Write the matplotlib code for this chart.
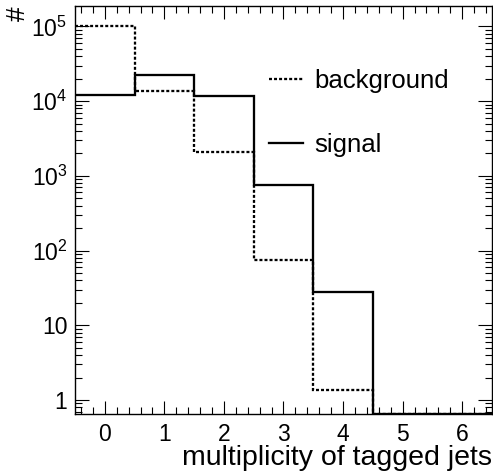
import numpy as np
import matplotlib
matplotlib.use("Agg")
import matplotlib.pyplot as plt
from matplotlib.ticker import FixedLocator, FixedFormatter, LogLocator, NullFormatter, MultipleLocator

plt.rcParams["font.family"] = ["Liberation Sans", "DejaVu Sans"]
plt.rcParams["mathtext.fontset"] = "custom"
plt.rcParams["mathtext.rm"] = "Liberation Sans"
plt.rcParams["mathtext.it"] = "Liberation Sans:italic"
plt.rcParams["mathtext.bf"] = "Liberation Sans:bold"
plt.rcParams["mathtext.default"] = "regular"

# number of tagged jets per event (bin centres)
multiplicity = [0, 1, 2, 3, 4, 5, 6]
background = [1.0e5, 1.36e4, 2.08e3, 74.0, 1.35, 0.0, 0.0]
signal = [1.22e4, 2.27e4, 1.17e4, 745.0, 28.0, 0.0, 0.0]

y_ticks = [1, 10, 1e2, 1e3, 1e4, 1e5]
y_ticklabels = ["1", "10", "$10^{2}$", "$10^{3}$", "$10^{4}$", "$10^{5}$"]
x_ticks = multiplicity
x_ticklabels = [str(m) for m in multiplicity]

ymin, ymax = 0.65, 1.88e5

fig = plt.figure(figsize=(4.93, 4.73), dpi=100)
ax = fig.add_axes([0.1521, 0.1247, 0.8458, 0.8626])

centers = np.asarray(multiplicity, dtype=float)
edges = np.append(centers - 0.5, centers[-1] + 0.5)

# empty bins sit on the bottom of the frame, as in ROOT
bkg_draw = np.where(np.asarray(background) > 0, background, ymin)
sig_draw = np.where(np.asarray(signal) > 0, signal, ymin)

ax.stairs(bkg_draw, edges, baseline=None, color="black", lw=1.65,
          linestyle=(0, (1.3, 0.9)), label="background", zorder=3)
ax.stairs(sig_draw, edges, baseline=None, color="black", lw=1.65,
          linestyle="-", label="signal", zorder=4)

ax.set_yscale("log")
ax.set_xlim(edges[0], edges[-1])
ax.set_ylim(ymin, ymax)

ax.yaxis.set_major_locator(FixedLocator(y_ticks))
ax.yaxis.set_major_formatter(FixedFormatter(y_ticklabels))
ax.yaxis.set_minor_locator(LogLocator(base=10, subs=np.arange(2, 10), numticks=20))
ax.yaxis.set_minor_formatter(NullFormatter())
ax.xaxis.set_major_locator(FixedLocator(x_ticks))
ax.xaxis.set_major_formatter(FixedFormatter(x_ticklabels))
ax.xaxis.set_minor_locator(MultipleLocator(0.2))

ax.tick_params(which="both", direction="in", top=True, right=True, width=0.8, color="black")
ax.tick_params(axis="x", which="major", length=9.2, pad=6.3, labelsize=16.5)
ax.tick_params(axis="x", which="minor", length=5.0)
ax.tick_params(axis="y", which="major", length=10.3, pad=5.5, labelsize=16.5)
ax.tick_params(axis="y", which="minor", length=5.2)

for s in ax.spines.values():
    s.set_linewidth(1.0)
    s.set_color("black")

ax.set_xlabel("multiplicity of tagged jets", fontsize=20.5, ha="right")
ax.xaxis.set_label_coords(1.0, -0.0765)
ax.set_ylabel("#", fontsize=19, rotation=90, ha="center", va="center")
ax.yaxis.set_label_coords(-0.138, 0.981)

ax.legend(loc="upper left", bbox_to_anchor=(0.465, 0.846), frameon=False,
          fontsize=18.5, borderpad=0, borderaxespad=0, handlelength=1.32,
          handletextpad=0.43, labelspacing=1.55)

fig.savefig("out.png", dpi=100)
